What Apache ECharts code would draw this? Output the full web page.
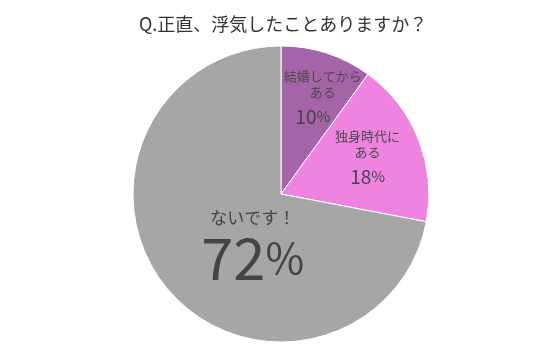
<!DOCTYPE html>
<html><head><meta charset="utf-8">
<script src="https://cdn.jsdelivr.net/npm/echarts@6/dist/echarts.min.js"></script>
<style>html,body{margin:0;padding:0;background:#fff}#c{width:560px;height:362px}</style>
</head><body><div id="c"></div>
<script>
const title = 'Q.正直、浮気したことありますか？';
const categories = ['結婚してから\nある', '独身時代に\nある', 'ないです！'];
const values = [10, 18, 72];
const colors = ['#A564A8', '#EE84E0', '#A6A6A6'];

const labelOffsets = [[18, -23], [15, -8], [31, 4]];
const chart = echarts.init(document.getElementById('c'));
const font = '"Noto Sans CJK JP", "Noto Sans", sans-serif';
chart.setOption({
  title: { text: title, left: 134, top: 10, textStyle: { fontFamily: font, fontSize: 18, fontWeight: 'normal', color: '#333' } },
  series: [{
    type: 'pie',
    center: [281, 194],
    radius: 148,
    startAngle: 90,
    clockwise: true,
    silent: true,
    animation: false,
    itemStyle: { borderColor: '#fff', borderWidth: 1 },
    label: {
      position: 'inside',
      fontFamily: font,
      color: '#444',
      formatter: p => p.dataIndex === 2
        ? '{bn|' + p.name + '}\n{bv|' + p.value + '}{bp|%}'
        : p.name.split('\n').map(s => '{n|' + s + '}').join('\n') + '\n{v' + p.dataIndex + '|' + p.value + '}{p' + p.dataIndex + '|%}',
      rich: {
        n: { fontFamily: font, fontSize: 13, color: '#4a4a4a', lineHeight: 16 },
        v0: { fontFamily: font, fontSize: 19, color: '#444', lineHeight: 28, padding: [6, 0, 0, 0] },
        p0: { fontFamily: font, fontSize: 15, color: '#444', lineHeight: 28, padding: [6, 20, 0, 0] },
        v1: { fontFamily: font, fontSize: 19, color: '#444', lineHeight: 28, padding: [6, 0, 0, 0] },
        p1: { fontFamily: font, fontSize: 15, color: '#444', lineHeight: 28, padding: [6, 0, 0, 0] },
        bn: { fontFamily: font, fontSize: 17, color: '#444', lineHeight: 22 },
        bv: { fontFamily: font, fontSize: 58, color: '#444', lineHeight: 60 },
        bp: { fontFamily: font, fontSize: 42, color: '#444', lineHeight: 60 }
      }
    },
    labelLine: { show: false },
    labelLayout: params => ({ dx: labelOffsets[params.dataIndex][0], dy: labelOffsets[params.dataIndex][1] }),
    data: categories.map((c, i) => ({ name: c, value: values[i], itemStyle: { color: colors[i] } }))
  }]
});
</script></body></html>
